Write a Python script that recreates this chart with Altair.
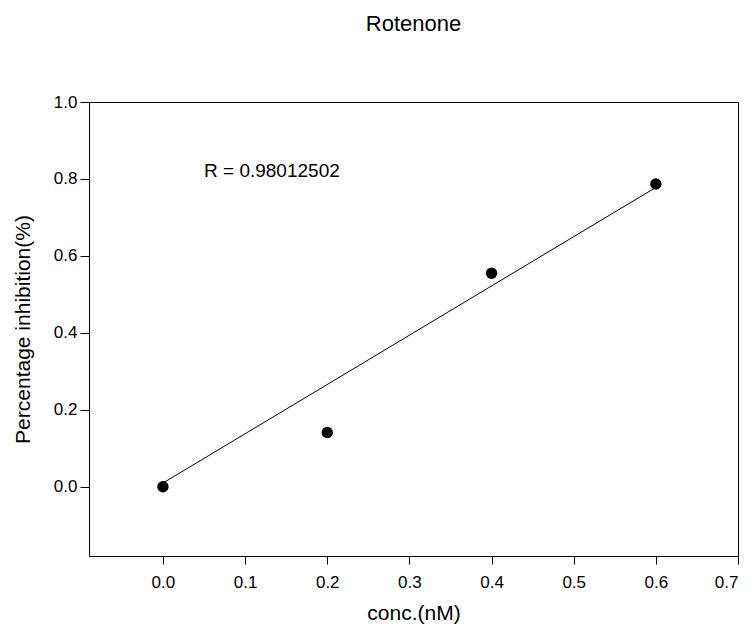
import altair as alt
import pandas as pd

# data
conc = [0.0, 0.2, 0.4, 0.6]
inhibition = [0.0, 0.141, 0.555, 0.787]
fit_x = [0.0, 0.6]
fit_y = [0.0096, 0.778]
note_text = ["R = 0.98012502"]
note_x = [0.05]
note_y = [0.805]
x_ticks = [0.0, 0.1, 0.2, 0.3, 0.4, 0.5, 0.6, 0.7]
y_ticks = [0.0, 0.2, 0.4, 0.6, 0.8, 1.0]

FONT = "Liberation Sans"

pts = pd.DataFrame({"x": conc, "y": inhibition})
fit = pd.DataFrame({"x": fit_x, "y": fit_y})
note = pd.DataFrame({"x": note_x, "y": note_y, "t": note_text})

x_scale = alt.Scale(domain=[-0.09, 0.7], nice=False, zero=False)
y_scale = alt.Scale(domain=[-0.18, 1.0], nice=False, zero=False)

x_axis = alt.Axis(
    title="conc.(nM)", values=x_ticks, format=".1f", grid=False, domain=False,
    tickSize=8, tickColor="black", labelPadding=10, labelFontSize=17,
    labelFont=FONT, labelColor="black", titleFont=FONT, titleFontSize=21,
    titleFontWeight="normal", titleColor="black", titlePadding=12,
)
y_axis = alt.Axis(
    title="Percentage inhibition(%)", values=y_ticks, format=".1f", grid=False,
    domain=False, tickSize=9, tickColor="black", labelPadding=3,
    labelFontSize=17, labelFont=FONT, labelColor="black", titleFont=FONT,
    titleFontSize=21, titleFontWeight="normal", titleColor="black",
    titlePadding=20,
)

points = alt.Chart(pts).mark_point(filled=True, size=130, color="black", opacity=1).encode(
    x=alt.X("x:Q", scale=x_scale, axis=x_axis),
    y=alt.Y("y:Q", scale=y_scale, axis=y_axis),
)
line = alt.Chart(fit).mark_line(color="black", strokeWidth=1).encode(
    x=alt.X("x:Q", scale=x_scale),
    y=alt.Y("y:Q", scale=y_scale),
)
text = alt.Chart(note).mark_text(
    align="left", baseline="alphabetic", fontSize=19, font=FONT, color="black"
).encode(
    x=alt.X("x:Q", scale=x_scale),
    y=alt.Y("y:Q", scale=y_scale),
    text="t:N",
)

chart = alt.layer(line, points, text).properties(
    width=649,
    height=454,
    title=alt.Title(
        "Rotenone", fontSize=22, font=FONT, fontWeight="normal", color="black",
        anchor="middle", baseline="alphabetic", offset=40,
    ),
    autosize=alt.AutoSizeParams(type="none"),
    padding={"left": 81, "top": 94, "right": 6, "bottom": 80},
).configure_view(stroke="black", strokeWidth=1)

chart.save("out.html", embed_options={"renderer": "svg", "actions": False})
